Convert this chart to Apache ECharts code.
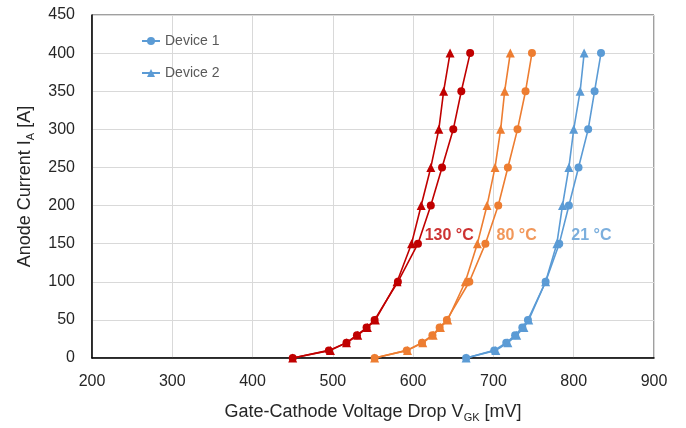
<!DOCTYPE html>
<html>
<head>
<meta charset="utf-8">
<script src="https://cdn.jsdelivr.net/npm/echarts@6/dist/echarts.min.js"></script>
<style>
  html, body { margin: 0; padding: 0; background: #fff; }
  #chart { width: 686px; height: 428px; }
</style>
</head>
<body>
<div id="chart"></div>
<script>
// anode current steps [A]
const current = [0, 10, 20, 30, 40, 50, 100, 150, 200, 250, 300, 350, 400];

// gate-cathode voltage drop [mV], one array per device / temperature
const v130Dev1 = [450, 495, 517, 530, 542, 552, 581, 606, 622, 636, 650, 660, 671];
const v130Dev2 = [450, 497, 517, 531, 543, 553, 580, 598, 610, 622, 632, 638, 646];
const v80Dev1 = [552, 592, 611, 624, 633, 642, 670, 690, 706, 718, 730, 740, 748];
const v80Dev2 = [552, 593, 612, 625, 634, 643, 665, 680, 692, 702, 709, 714, 721];
const v21Dev1 = [666, 701, 716, 727, 736, 743, 765, 782, 794, 806, 818, 826, 834];
const v21Dev2 = [666, 703, 718, 729, 738, 744, 765, 779, 786, 794, 800, 808, 813];

// temperature labels [text, x mV, y A]
const tempLabels = [["130 °C", 645, 160], ["80 °C", 729, 160], ["21 °C", 822, 160]];

const RED = "#C00000", ORANGE = "#ED7D31", BLUE = "#5B9BD5";
const FONT = "'Liberation Sans', 'Noto Sans', sans-serif";

function pairs(xs) {
  return xs.map((v, i) => [v, current[i]]);
}

function curve(name, xs, color, symbol) {
  return {
    name: name,
    type: "line",
    data: pairs(xs),
    symbol: symbol,
    symbolSize: symbol === "circle" ? 8 : 9,
    lineStyle: { color: color, width: 1.6 },
    itemStyle: { color: color },
    z: 3
  };
}

const chart = echarts.init(document.getElementById("chart"));

const option = {
  animation: false,
  textStyle: { fontFamily: FONT },
  grid: {
    left: 92, right: 32, top: 15, bottom: 67,
    show: true, borderColor: "#404040", borderWidth: 1
  },
  legend: {
    data: ["Device 1", "Device 2"],
    orient: "vertical",
    left: 136, top: 29,
    itemWidth: 18, itemHeight: 10, itemGap: 18,
    textStyle: { color: "#595959", fontSize: 14, fontFamily: FONT }
  },
  xAxis: {
    type: "value",
    min: 200, max: 900, interval: 100,
    axisLine: { show: true, lineStyle: { color: "#000", width: 1.5 } },
    axisTick: { show: false },
    splitLine: { lineStyle: { color: "#d9d9d9", width: 1 } },
    axisLabel: { color: "#262626", fontSize: 16, margin: 16 },
    name: "{n|Gate-Cathode Voltage Drop V}{s|GK}{n| [mV]}",
    nameLocation: "middle",
    nameGap: 44,
    nameTextStyle: {
      rich: {
        n: { fontSize: 18, color: "#262626", fontFamily: FONT },
        s: { fontSize: 11, color: "#262626", fontFamily: FONT, padding: [10, 0, 0, 0] }
      }
    }
  },
  yAxis: {
    type: "value",
    min: 0, max: 450, interval: 50,
    axisLine: { show: true, lineStyle: { color: "#000", width: 1.5 } },
    axisTick: { show: false },
    splitLine: { lineStyle: { color: "#d9d9d9", width: 1 } },
    axisLabel: { color: "#262626", fontSize: 16, margin: 17 },
    name: "{n|Anode Current I}{s|A}{n| [A]}",
    nameLocation: "middle",
    nameGap: 56,
    nameTextStyle: {
      rich: {
        n: { fontSize: 18, color: "#262626", fontFamily: FONT },
        s: { fontSize: 11, color: "#262626", fontFamily: FONT, padding: [10, 0, 0, 0] }
      }
    }
  },
  series: [
    curve("130 °C Device 1", v130Dev1, RED, "circle"),
    curve("130 °C Device 2", v130Dev2, RED, "triangle"),
    curve("80 °C Device 1", v80Dev1, ORANGE, "circle"),
    curve("80 °C Device 2", v80Dev2, ORANGE, "triangle"),
    curve("Device 1", v21Dev1, BLUE, "circle"),
    curve("Device 2", v21Dev2, BLUE, "triangle"),
    {
      name: "labels",
      type: "scatter",
      symbolSize: 0,
      silent: true,
      data: tempLabels.map((t, i) => ({
        value: [t[1], t[2]],
        label: {
          show: true,
          formatter: t[0],
          position: "inside",
          fontSize: 16,
          fontWeight: "bold",
          fontFamily: FONT,
          color: [RED, ORANGE, BLUE][i]
        }
      }))
    }
  ]
};

chart.setOption(option);
</script>
</body>
</html>
